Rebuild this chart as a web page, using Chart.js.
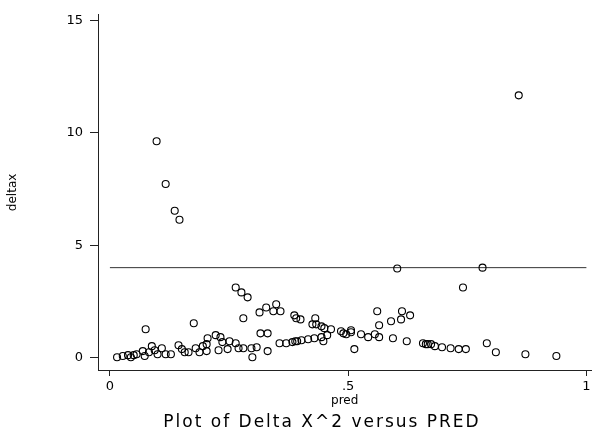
<!DOCTYPE html>
<html>
<head>
<meta charset="utf-8">
<script src="https://cdn.jsdelivr.net/npm/chart.js@4"></script>
<style>
  html, body { margin: 0; padding: 0; background: #fff; }
  #wrap { width: 596px; height: 433px; }
</style>
</head>
<body>
<div id="wrap"><canvas id="plot"></canvas></div>
<script>
// values
const predVals = [
  0.015, 0.027, 0.038, 0.044, 0.050, 0.056, 0.069, 0.073, 0.075, 0.082,
  0.088, 0.094, 0.100, 0.109, 0.117, 0.128, 0.144, 0.151, 0.157, 0.165,
  0.176, 0.180, 0.188, 0.195, 0.203, 0.205, 0.203, 0.222, 0.228, 0.232,
  0.236, 0.247, 0.251, 0.264, 0.270, 0.280, 0.297, 0.308, 0.299, 0.264,
  0.276, 0.289, 0.280, 0.314, 0.328, 0.349, 0.343, 0.358, 0.387, 0.391,
  0.316, 0.331, 0.331, 0.356, 0.370, 0.383, 0.389, 0.393, 0.402, 0.416,
  0.429, 0.444, 0.448, 0.456, 0.400, 0.431, 0.425, 0.433, 0.444, 0.450,
  0.464, 0.485, 0.490, 0.496, 0.506, 0.506, 0.513, 0.527, 0.542, 0.556,
  0.565, 0.561, 0.565, 0.590, 0.594, 0.603, 0.613, 0.611, 0.630, 0.623,
  0.657, 0.663, 0.667, 0.674, 0.682, 0.697, 0.715, 0.732, 0.747, 0.741,
  0.782, 0.791, 0.810, 0.872, 0.937, 0.858, 0.098, 0.117, 0.136, 0.146
];
const deltaxVals = [
  0.02, 0.07, 0.11, 0.02, 0.11, 0.15, 0.29, 0.07, 1.26, 0.24,
  0.51, 0.33, 0.15, 0.42, 0.15, 0.15, 0.55, 0.38, 0.24, 0.24,
  1.53, 0.42, 0.24, 0.51, 0.60, 0.86, 0.29, 1.00, 0.33, 0.91,
  0.69, 0.38, 0.73, 0.64, 0.42, 0.42, 0.42, 0.46, 0.02, 3.12,
  2.90, 2.68, 1.75, 2.01, 2.23, 2.37, 2.06, 2.06, 1.88, 1.75,
  1.08, 1.08, 0.29, 0.64, 0.64, 0.69, 0.73, 0.73, 0.77, 0.82,
  0.86, 0.91, 0.73, 1.00, 1.70, 1.75, 1.48, 1.48, 1.39, 1.31,
  1.26, 1.17, 1.08, 1.04, 1.22, 1.13, 0.38, 1.04, 0.91, 1.04,
  0.91, 2.06, 1.44, 1.62, 0.86, 3.96, 2.06, 1.70, 1.88, 0.73,
  0.64, 0.60, 0.60, 0.60, 0.51, 0.46, 0.42, 0.38, 0.38, 3.12,
  4.00, 0.64, 0.24, 0.15, 0.07, 11.66, 9.62, 7.72, 6.53, 6.13
];
// reference line
const refLineX = [0, 1];
const refLineY = [4, 4];
// ticks
const xTickVals = [0, 0.5, 1];
const xTickLabels = ["0", ".5", "1"];
const yTickVals = [0, 5, 10, 15];
const yTickLabels = ["0", "5", "10", "15"];

const titleText = "Plot of Delta X^2 versus PRED";

const bottomTitle = {
  id: "bottomTitle",
  afterDraw(chart) {
    const ctx = chart.ctx;
    ctx.save();
    ctx.font = "17px 'DejaVu Sans'";
    ctx.letterSpacing = "2px";
    ctx.fillStyle = "#000";
    ctx.textAlign = "center";
    ctx.textBaseline = "alphabetic";
    ctx.fillText(titleText, 322, 427);
    ctx.restore();
  },
};

const ctx = document.getElementById("plot").getContext("2d");
new Chart(ctx, {
  type: "scatter",
  data: {
    datasets: [
      {
        label: "deltax",
        data: predVals.map((x, i) => ({ x: x, y: deltaxVals[i] })),
        backgroundColor: "rgba(0,0,0,0)",
        borderColor: "#000",
        borderWidth: 1.1,
        pointRadius: 3.5,
        pointHoverRadius: 3.5,
      },
      {
        label: "line",
        type: "line",
        data: refLineX.map((x, i) => ({ x: x, y: refLineY[i] })),
        borderColor: "#333",
        borderWidth: 1,
        pointRadius: 0,
        fill: false,
      },
    ],
  },
  options: {
    responsive: true,
    maintainAspectRatio: false,
    animation: false,
    layout: { padding: { top: 13, right: 3, left: 0, bottom: 0 } },
    plugins: {
      legend: { display: false },
      tooltip: { enabled: false },
    },
    scales: {
      x: {
        type: "linear",
        min: -0.025,
        max: 1.0105,
        afterBuildTicks: (scale) => {
          scale.ticks = xTickVals.map((v) => ({ value: v }));
        },
        afterFit: (scale) => {
          scale.height = 63;
        },
        ticks: {
          color: "#000",
          font: { family: "'DejaVu Sans'", size: 13 },
          padding: 3,
          maxRotation: 0,
          callback: (v) => {
            const i = xTickVals.indexOf(v);
            return i >= 0 ? xTickLabels[i] : "";
          },
        },
        grid: {
          drawOnChartArea: false,
          drawTicks: true,
          tickLength: 6,
          color: "#222",
        },
        border: { display: true, color: "#222", width: 1 },
        title: {
          display: true,
          text: "pred",
          color: "#000",
          font: { family: "'DejaVu Sans'", size: 12 },
          padding: { top: 0, bottom: 25 },
        },
      },
      y: {
        type: "linear",
        min: -0.55,
        max: 15.24,
        afterBuildTicks: (scale) => {
          scale.ticks = yTickVals.map((v) => ({ value: v }));
        },
        afterFit: (scale) => {
          scale.width = 98;
        },
        ticks: {
          color: "#000",
          font: { family: "'DejaVu Sans'", size: 13 },
          padding: 7,
          callback: (v) => {
            const i = yTickVals.indexOf(v);
            return i >= 0 ? yTickLabels[i] : "";
          },
        },
        grid: {
          drawOnChartArea: false,
          drawTicks: true,
          tickLength: 8,
          color: "#222",
        },
        border: { display: true, color: "#222", width: 1 },
        title: {
          display: true,
          text: "deltax",
          color: "#000",
          font: { family: "'DejaVu Sans'", size: 12 },
          padding: { top: 6, bottom: 0 },
        },
      },
    },
  },
  plugins: [bottomTitle],
});
</script>
</body>
</html>
